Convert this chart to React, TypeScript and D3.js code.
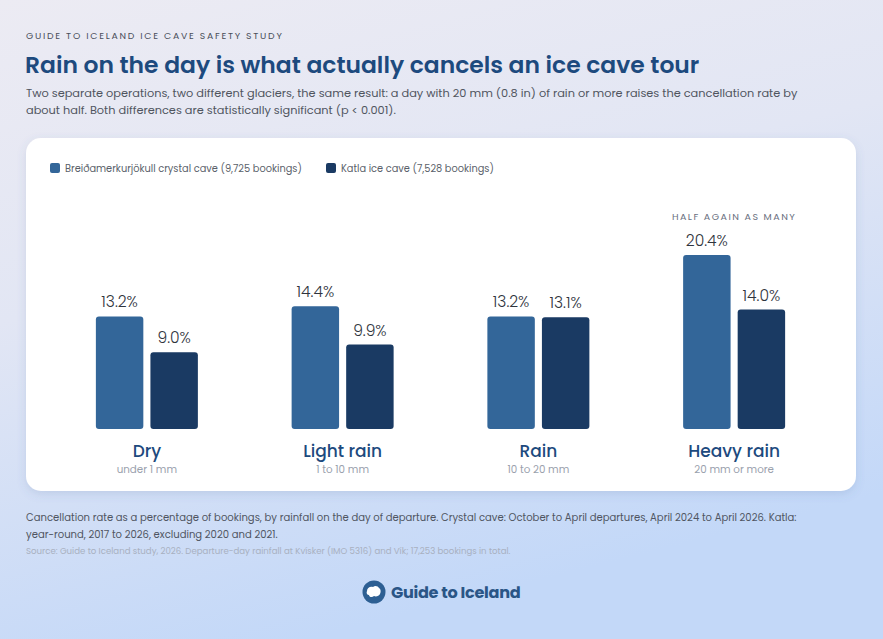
import React from 'react';
import * as d3 from 'd3';

const categories = ['Dry', 'Light rain', 'Rain', 'Heavy rain'];
const categoryNotes = ['under 1 mm', '1 to 10 mm', '10 to 20 mm', '20 mm or more'];
const seriesNames = ['Breiðamerkurjökull crystal cave (9,725 bookings)', 'Katla ice cave (7,528 bookings)'];
const crystalCave = [13.2, 14.4, 13.2, 20.4];
const katlaCave = [9.0, 9.9, 13.1, 14.0];
const seriesColors = ['#336699', '#1a3a63'];

const W = 883;
const H = 639;
const FONT = "Poppins, 'Open Sans', sans-serif";

const card = { x: 26, y: 138, w: 830, h: 353 };

const App: React.FC = () => {
  const baseY = 429;
  const x = d3.scaleBand<string>().domain(categories).range([49, 832]).paddingInner(0).paddingOuter(0);
  const xs = d3.scaleBand<number>().domain([0, 1]).range([0, 102]).paddingInner(0.13).paddingOuter(0);
  const groupOffset = (x.bandwidth() - 102) / 2;
  const y = d3.scaleLinear().domain([0, 24]).range([baseY, baseY - 24 * 8.53]);
  const series = [crystalCave, katlaCave];

  return (
    <svg width={W} height={H} viewBox={`0 0 ${W} ${H}`} style={{ position: 'absolute', left: 0, top: 0, fontFamily: FONT }}>
      <defs>
        <linearGradient id="bg" x1="0" y1="0" x2="0.35" y2="1">
          <stop offset="0" stopColor="#ecebf3" />
          <stop offset="0.45" stopColor="#e2e6f4" />
          <stop offset="1" stopColor="#c3d8f8" />
        </linearGradient>
        <filter id="shadow" x="-5%" y="-10%" width="110%" height="125%">
          <feDropShadow dx="0" dy="3" stdDeviation="5" floodColor="#4a6a9a" floodOpacity="0.16" />
        </filter>
      </defs>
      <rect width={W} height={H} fill="url(#bg)" />

      <text x={26} y={39} fontSize={9.3} letterSpacing={1.75} fill="#4a4f5a">
        GUIDE TO ICELAND ICE CAVE SAFETY STUDY
      </text>
      <text x={25} y={73} fontSize={23.45} fontWeight={600} fill="#1d4a7e">
        Rain on the day is what actually cancels an ice cave tour
      </text>
      <text x={26} y={97} fontSize={11.35} fill="#50555f">
        Two separate operations, two different glaciers, the same result: a day with 20 mm (0.8 in) of rain or more raises the cancellation rate by
      </text>
      <text x={26} y={114} fontSize={11.35} fill="#50555f">
        about half. Both differences are statistically significant (p &lt; 0.001).
      </text>

      <rect x={card.x} y={card.y} width={card.w} height={card.h} rx={15} fill="#ffffff" filter="url(#shadow)" />

      {seriesNames.map((name, i) => {
        const lx = i === 0 ? 50 : 326;
        return (
          <g key={name}>
            <rect x={lx} y={163} width={10} height={10} rx={2} fill={seriesColors[i]} />
            <text x={lx + 15} y={172} fontSize={9.8} fill="#5a5f6a">{name}</text>
          </g>
        );
      })}

      {categories.map((c, ci) => {
        const gx = (x(c) ?? 0) + groupOffset;
        const cx = (x(c) ?? 0) + x.bandwidth() / 2;
        return (
          <g key={c}>
            {series.map((vals, si) => {
              const bx = gx + (xs(si) ?? 0);
              const top = y(vals[ci]);
              const bw = xs.bandwidth();
              return (
                <g key={si}>
                  <path
                    d={`M${bx},${baseY - 3} V${top + 3} Q${bx},${top} ${bx + 3},${top} H${bx + bw - 3} Q${bx + bw},${top} ${bx + bw},${top + 3} V${baseY - 3} Q${bx + bw},${baseY} ${bx + bw - 3},${baseY} H${bx + 3} Q${bx},${baseY} ${bx},${baseY - 3} Z`}
                    fill={seriesColors[si]}
                  />
                  <text x={bx + bw / 2} y={top - 9} textAnchor="middle" fontSize={15.5} fontWeight={300} fill="#2f343d">
                    {vals[ci].toFixed(1)}%
                  </text>
                </g>
              );
            })}
            <text x={cx} y={457} textAnchor="middle" fontSize={17} fontWeight={500} fill="#1d4a7e">{c}</text>
            <text x={cx} y={473} textAnchor="middle" fontSize={10.3} fill="#9aa1ad">{categoryNotes[ci]}</text>
            {ci === categories.length - 1 && (
              <text x={cx} y={220} textAnchor="middle" fontSize={9.5} letterSpacing={1.5} fill="#6a7080">
                HALF AGAIN AS MANY
              </text>
            )}
          </g>
        );
      })}

      <text x={26} y={521} fontSize={10.05} fill="#4f5561">
        Cancellation rate as a percentage of bookings, by rainfall on the day of departure. Crystal cave: October to April departures, April 2024 to April 2026. Katla:
      </text>
      <text x={26} y={538} fontSize={10.05} fill="#4f5561">
        year-round, 2017 to 2026, excluding 2020 and 2021.
      </text>
      <text x={26} y={554} fontSize={8.6} fill="#a8b0c0">
        Source: Guide to Iceland study, 2026. Departure-day rainfall at Kvísker (IMO 5316) and Vík; 17,253 bookings in total.
      </text>

      <g transform="translate(374,592)">
        <circle r={11.5} fill="#2d5f93" />
        <path d="M-7,-1 C-7,-4 -4,-6 -1,-5 C1,-7 4,-6 5,-4 C7,-3 7,0 6,2 C5,4 2,5 0,4 C-2,6 -5,5 -5,3 C-7,3 -8,1 -7,-1 Z" fill="#ffffff" />
      </g>
      <text x={391} y={598} fontSize={16.1} fontWeight={700} fill="#2a5586" letterSpacing={-0.3}>Guide to Iceland</text>
    </svg>
  );
};

export default App;
